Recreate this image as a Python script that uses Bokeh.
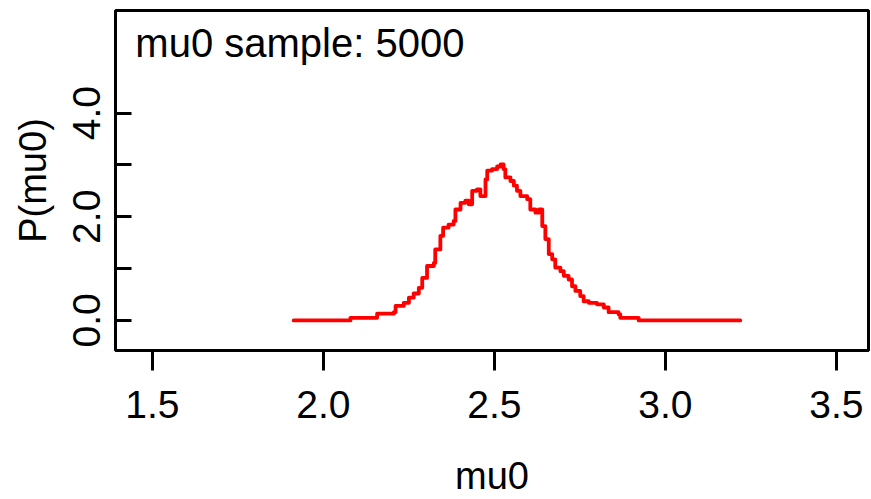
from bokeh.plotting import figure
from bokeh.models import FixedTicker, Range1d, Label
from bokeh.embed import file_html
from bokeh.resources import INLINE

# step-curve data (x where level starts, density level)
mu0_x = [1.913, 2.079, 2.157, 2.167, 2.206, 2.211, 2.235, 2.250, 2.264, 2.279,
         2.289, 2.303, 2.323, 2.327, 2.342, 2.350, 2.366, 2.381, 2.386, 2.401,
         2.415, 2.425, 2.435, 2.449, 2.459, 2.474, 2.479, 2.493, 2.508, 2.518,
         2.527, 2.532, 2.547, 2.557, 2.566, 2.576, 2.596, 2.605, 2.620, 2.630,
         2.640, 2.649, 2.659, 2.669, 2.678, 2.693, 2.703, 2.717, 2.727, 2.737,
         2.751, 2.761, 2.776, 2.800, 2.820, 2.834, 2.863, 2.868, 2.922, 3.219]
density = [0.00, 0.05, 0.13, 0.13, 0.16, 0.28, 0.34, 0.44, 0.52, 0.63,
           0.82, 1.05, 1.11, 1.37, 1.63, 1.79, 1.85, 1.92, 2.14, 2.27,
           2.31, 2.24, 2.50, 2.53, 2.40, 2.72, 2.89, 2.92, 2.97, 3.01,
           2.92, 2.76, 2.69, 2.60, 2.50, 2.40, 2.34, 2.14, 2.08, 2.14,
           1.82, 1.57, 1.28, 1.18, 1.02, 0.95, 0.86, 0.79, 0.66, 0.57,
           0.47, 0.37, 0.34, 0.31, 0.25, 0.16, 0.12, 0.05, 0.00, 0.00]

x_ticks = [1.5, 2.0, 2.5, 3.0, 3.5]
y_ticks = [0, 1, 2, 3, 4]
y_tick_labels = {0: "0.0", 1: "", 2: "2.0", 3: "", 4: "4.0"}
x_tick_labels = {1.5: "1.5", 2.0: "2.0", 2.5: "2.5", 3.0: "3.0", 3.5: "3.5"}
annotation_text = "mu0 sample: 5000"

FONT = "Liberation Sans"

p = figure(width=871, height=499, output_backend="svg", toolbar_location=None,
           x_range=Range1d(1.392, 3.594), y_range=Range1d(-0.58, 5.98),
           min_border_left=115, min_border_right=3, min_border_top=10,
           min_border_bottom=148)

p.step(mu0_x, density, mode="after", line_color="#FF0000", line_width=3.8,
       line_join="round", line_cap="round")

p.xgrid.visible = False
p.ygrid.visible = False
p.outline_line_color = "black"
p.outline_line_width = 3
p.outline_line_alpha = 1.0

xa = p.xaxis[0]
xa.ticker = FixedTicker(ticks=x_ticks)
xa.major_label_overrides = x_tick_labels
xa.axis_line_color = None
xa.minor_tick_line_color = None
xa.major_tick_out = 20
xa.major_tick_in = 0
xa.major_tick_line_width = 3
xa.major_tick_line_color = "black"
xa.major_label_text_font = FONT
xa.major_label_text_font_size = "39px"
xa.major_label_text_color = "black"
xa.major_label_standoff = 20
xa.axis_label = "mu0"
xa.axis_label_text_font = FONT
xa.axis_label_text_font_size = "38px"
xa.axis_label_text_font_style = "normal"
xa.axis_label_text_color = "black"
xa.axis_label_standoff = 34

ya = p.yaxis[0]
ya.ticker = FixedTicker(ticks=y_ticks)
ya.major_label_overrides = y_tick_labels
ya.axis_line_color = None
ya.minor_tick_line_color = None
ya.major_tick_out = 0
ya.major_tick_in = 16
ya.major_tick_line_width = 3
ya.major_tick_line_color = "black"
ya.major_label_orientation = "vertical"
ya.major_label_text_font = FONT
ya.major_label_text_font_size = "39px"
ya.major_label_text_color = "black"
ya.major_label_standoff = 15
ya.axis_label = "P(mu0)"
ya.axis_label_text_font = FONT
ya.axis_label_text_font_size = "38px"
ya.axis_label_text_font_style = "normal"
ya.axis_label_text_color = "black"
ya.axis_label_standoff = 17

lbl = Label(x=1.45, y=5.36, text=annotation_text, text_font=FONT,
            text_font_size="40px", text_color="black", text_baseline="middle",
            text_align="left")
p.add_layout(lbl)

open("out.html", "w").write(file_html(p, INLINE))
